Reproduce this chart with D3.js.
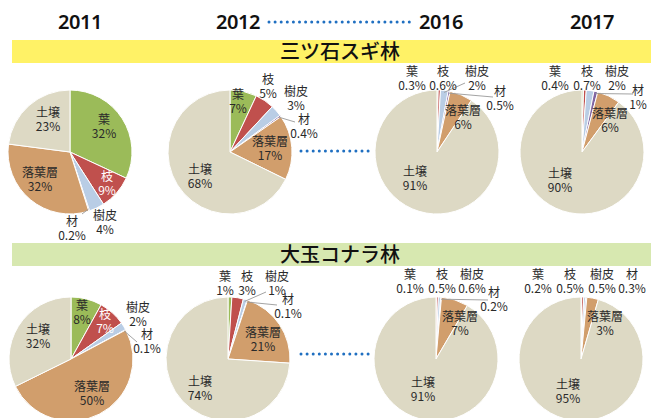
<!DOCTYPE html>
<html><head><meta charset="utf-8">
<script src="https://cdn.jsdelivr.net/npm/d3@7/dist/d3.min.js"></script>
<style>
html,body{margin:0;padding:0;background:#fff;}
svg{display:block;}
</style>
</head><body>
<svg id="c" width="651" height="418"></svg>
<script>
// ---- data ----
const categories = ['葉','枝','樹皮','材','落葉層','土壌'];
const years = ['2011','2012','2016','2017'];
const forests = ['三ツ石スギ林','大玉コナラ林'];
const sugi2011 = [32, 9, 4, 0.2, 32, 23];
const sugi2012 = [7, 5, 3, 0.4, 17, 68];
const sugi2016 = [0.3, 0.6, 2, 0.5, 6, 91];
const sugi2017 = [0.4, 0.7, 2, 1, 6, 90];
const kona2011 = [8, 7, 2, 0.1, 50, 32];
const kona2012 = [1, 3, 1, 0.1, 21, 74];
const kona2016 = [0.1, 0.5, 0.6, 0.2, 7, 91];
const kona2017 = [0.2, 0.5, 0.5, 0.3, 3, 95];

// ---- style / layout ----
const colors = ['#9bbb59','#c0504d','#b9cde5','#8064a2','#d19e6c','#ddd9c4'];
const radius = 62;
const rowCenters = [152, 359];
const colCenters = [[70,230,437,582],[71,228,436,581]];
const lineGap = 14;
// label offsets (first line) relative to pie centre, per chart
const labelPos = [
  [ [[34,-32],[37,25],[35,64],[2,70],[-30,21],[-22,-39]],
    [[8,-57],[38,-72],[66,-60],[74,-32],[40,-10],[-30,18]],
    [[-25,-80],[6,-80],[40,-80],[63,-60],[26,-41],[-22,20]],
    [[-27,-80],[5,-80],[35,-80],[56,-61],[28,-38],[-22,22]] ],
  [ [[11,-53],[34,-44],[67,-51],[76,-24],[21,28],[-33,-29]],
    [[-3,-82],[19,-82],[49,-82],[60,-59],[35,-26],[-28,23]],
    [[-26,-84],[6,-84],[36,-84],[58,-66],[24,-42],[-13,24]],
    [[-43,-84],[-11,-84],[21,-84],[51,-84],[24,-42],[-13,26]] ]
];
const whiteLabels = [[0,0,1],[1,0,1]]; // [row, col, category]
const leaders = [
  {row:0,col:0,cat:3,end:[12,62]},
  {row:0,col:1,cat:3,end:[65,-30]},
  {row:0,col:2,cat:2,end:[28,-69]},
  {row:0,col:2,cat:3,end:[56,-55]},
  {row:0,col:3,cat:3,end:[51,-58]},
  {row:1,col:0,cat:3,end:[66,-17]},
  {row:1,col:1,cat:2,end:[38,-67]},
  {row:1,col:1,cat:3,end:[49,-54]},
  {row:1,col:2,cat:3,end:[52,-59]}
];

const dataRows = [[sugi2011,sugi2012,sugi2016,sugi2017],[kona2011,kona2012,kona2016,kona2017]];

const svg = d3.select('#c');
const fontJP = "'Noto Sans CJK JP','Noto Sans',sans-serif";

// year headers
const yearX = d3.scalePoint().domain(years).range([80,592]);
const yearPosFix = {'2011':80,'2012':238,'2016':441,'2017':592};
svg.selectAll('text.year').data(years).join('text')
  .attr('class','year')
  .attr('x', d => yearPosFix[d])
  .attr('y', 29)
  .attr('text-anchor','middle')
  .style('font-family',"'Noto Sans','Open Sans',sans-serif")
  .style('font-weight','600')
  .style('font-size','20px')
  .style('letter-spacing','-0.5px')
  .attr('fill','#111')
  .text(d => d);

function dotted(x1,x2,y){
  svg.append('line').attr('x1',x1).attr('x2',x2).attr('y1',y).attr('y2',y)
    .attr('stroke','#1f6fc1').attr('stroke-width',3)
    .attr('stroke-linecap','round').attr('stroke-dasharray','0 6.1');
}
dotted(269,414,22);
dotted(301,371,151);
dotted(301,371,354);

// forest bands
const bandY = [40,243];
const bandColors = ['#fff266','#d7e8b0'];
forests.forEach((f,i)=>{
  svg.append('rect').attr('x',12).attr('y',bandY[i]).attr('width',639).attr('height',23)
    .attr('fill',bandColors[i]);
  svg.append('text').attr('x',340).attr('y',bandY[i]+19)
    .attr('text-anchor','middle')
    .style('font-family',fontJP).style('font-size','20px').style('font-weight','500')
    .attr('fill','#111').text(f);
});

const pie = d3.pie().sort(null).value(d=>d);
const arc = d3.arc().innerRadius(0).outerRadius(radius);
const edgeArc = d3.arc().innerRadius(radius-2).outerRadius(radius-2);

dataRows.forEach((row, ri)=>{
  row.forEach((vals, ci)=>{
    const cx = colCenters[ri][ci], cy = rowCenters[ri];
    const g = svg.append('g').attr('transform',`translate(${cx},${cy})`);
    const arcs = pie(vals);
    g.selectAll('path').data(arcs).join('path')
      .attr('d',arc)
      .attr('fill',(d,i)=>colors[i])
      .attr('stroke','#fff').attr('stroke-width',1).attr('stroke-linejoin','round');
    // leaders
    leaders.filter(l=>l.row===ri&&l.col===ci).forEach(l=>{
      const a = arcs[l.cat];
      const p = edgeArc.centroid(a);
      g.append('line').attr('x1',p[0]).attr('y1',p[1]).attr('x2',l.end[0]).attr('y2',l.end[1])
        .attr('stroke','#999').attr('stroke-width',0.9);
    });
    // labels
    categories.forEach((cat, k)=>{
      const pos = labelPos[ri][ci][k];
      const white = whiteLabels.some(w=>w[0]===ri&&w[1]===ci&&w[2]===k);
      const t = g.append('text').attr('text-anchor','middle')
        .style('font-family',fontJP).style('font-size','12px')
        .attr('fill', white ? '#fff' : '#2a2a2a');
      t.append('tspan').attr('x',pos[0]).attr('y',pos[1]+4).text(cat);
      t.append('tspan').attr('x',pos[0]).attr('y',pos[1]+4+lineGap).text(vals[k]+'%');
    });
  });
});
</script>
</body></html>
